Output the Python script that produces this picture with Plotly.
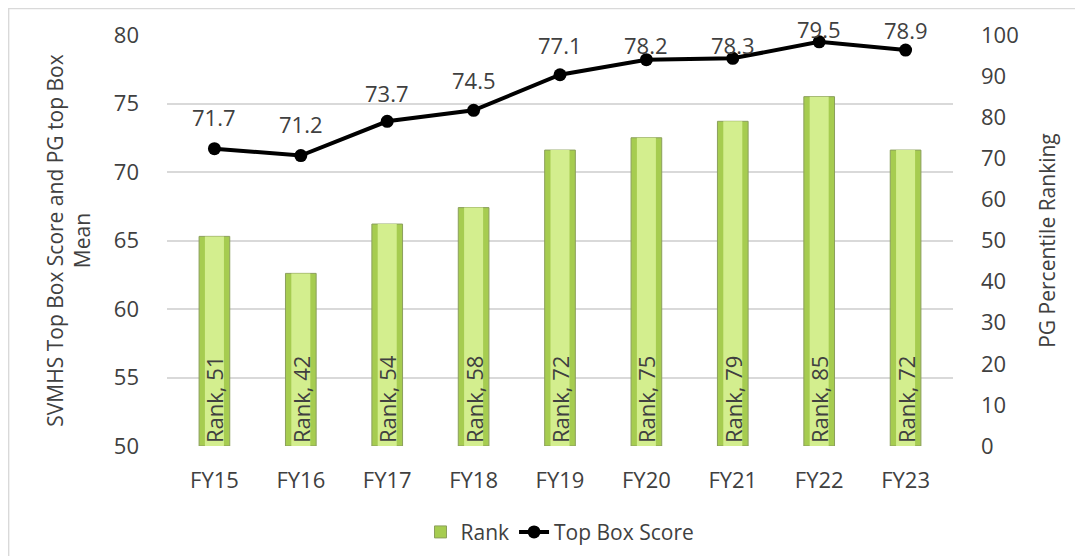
import plotly.graph_objects as go

categories = ["FY15", "FY16", "FY17", "FY18", "FY19", "FY20", "FY21", "FY22", "FY23"]
rank = [51, 42, 54, 58, 72, 75, 79, 85, 72]
top_box = [71.7, 71.2, 73.7, 74.5, 77.1, 78.2, 78.3, 79.5, 78.9]

# style: vertical offset (px) of each score label above its point
label_yshift = [32, 32, 28, 30, 30, 15, 13, 13, 20]

FONT = "Open Sans"
TXT = "#404040"
FS = 22

fig = go.Figure()

# outer (darker) bar layer
fig.add_trace(go.Bar(
    x=categories, y=rank, name="Rank", width=0.355,
    marker=dict(color="#a6cc50", line=dict(color="#8b9f5c", width=1)),
    yaxis="y", showlegend=True, hoverinfo="skip",
))
# inner (lighter) highlight layer
fig.add_trace(go.Bar(
    x=categories, y=rank, name="Rank", width=0.22,
    marker=dict(color="#d3ee8e", line=dict(width=0)),
    yaxis="y", showlegend=False,
    text=[f"Rank, {v}" for v in rank], textposition="inside",
    insidetextanchor="start", textangle=-90,
    textfont=dict(family=FONT, size=FS, color=TXT),
))

fig.add_trace(go.Scatter(
    x=categories, y=top_box, name="Top Box Score", yaxis="y2",
    mode="lines+markers",
    line=dict(color="black", width=4),
    marker=dict(color="black", size=13),
))

annotations = [
    dict(x=c, y=v, xref="x", yref="y2", text=f"{v:.1f}", showarrow=False,
         yshift=s, font=dict(family=FONT, size=FS, color=TXT))
    for c, v, s in zip(categories, top_box, label_yshift)
]

# page body has an 8px margin, so the figure is offset by 8px
fig.update_layout(
    width=1075, height=548,
    margin=dict(l=159, r=130, t=27, b=110, autoexpand=False),
    paper_bgcolor="white", plot_bgcolor="white",
    barmode="overlay",
    font=dict(family=FONT, size=FS, color=TXT),
    uniformtext=dict(minsize=FS, mode="show"),
    xaxis=dict(showgrid=False, showline=False, ticks="", automargin=False,
               ticklabelstandoff=19, tickfont=dict(size=FS, color=TXT)),
    yaxis=dict(side="right", range=[0, 100], dtick=10, showgrid=False,
               zeroline=False, ticks="", automargin=False, ticklabelstandoff=27,
               tickfont=dict(size=FS, color=TXT),
               title=dict(text="PG Percentile Ranking", font=dict(size=21, color=TXT), standoff=22)),
    yaxis2=dict(side="left", overlaying="y", range=[50, 80], dtick=5,
                showgrid=True, gridcolor="#d9d9d9", gridwidth=1.5, zeroline=False,
                ticks="", automargin=False, ticklabelstandoff=27,
                tickfont=dict(size=FS, color=TXT),
                title=dict(text="SVMHS Top Box Score and PG top Box<br>Mean",
                           font=dict(size=21, color=TXT), standoff=17)),
    legend=dict(orientation="h", x=0.5, xanchor="center", y=-0.16, yanchor="top",
                font=dict(size=21, color=TXT), traceorder="normal"),
    annotations=annotations,
    shapes=[dict(type="rect", xref="paper", yref="paper", layer="below",
                 x0=-0.2015, x1=1.6, y0=-0.6, y1=1.0645,
                 line=dict(color="#d9d9d9", width=1.5))],
)

fig.write_html("out.html")
